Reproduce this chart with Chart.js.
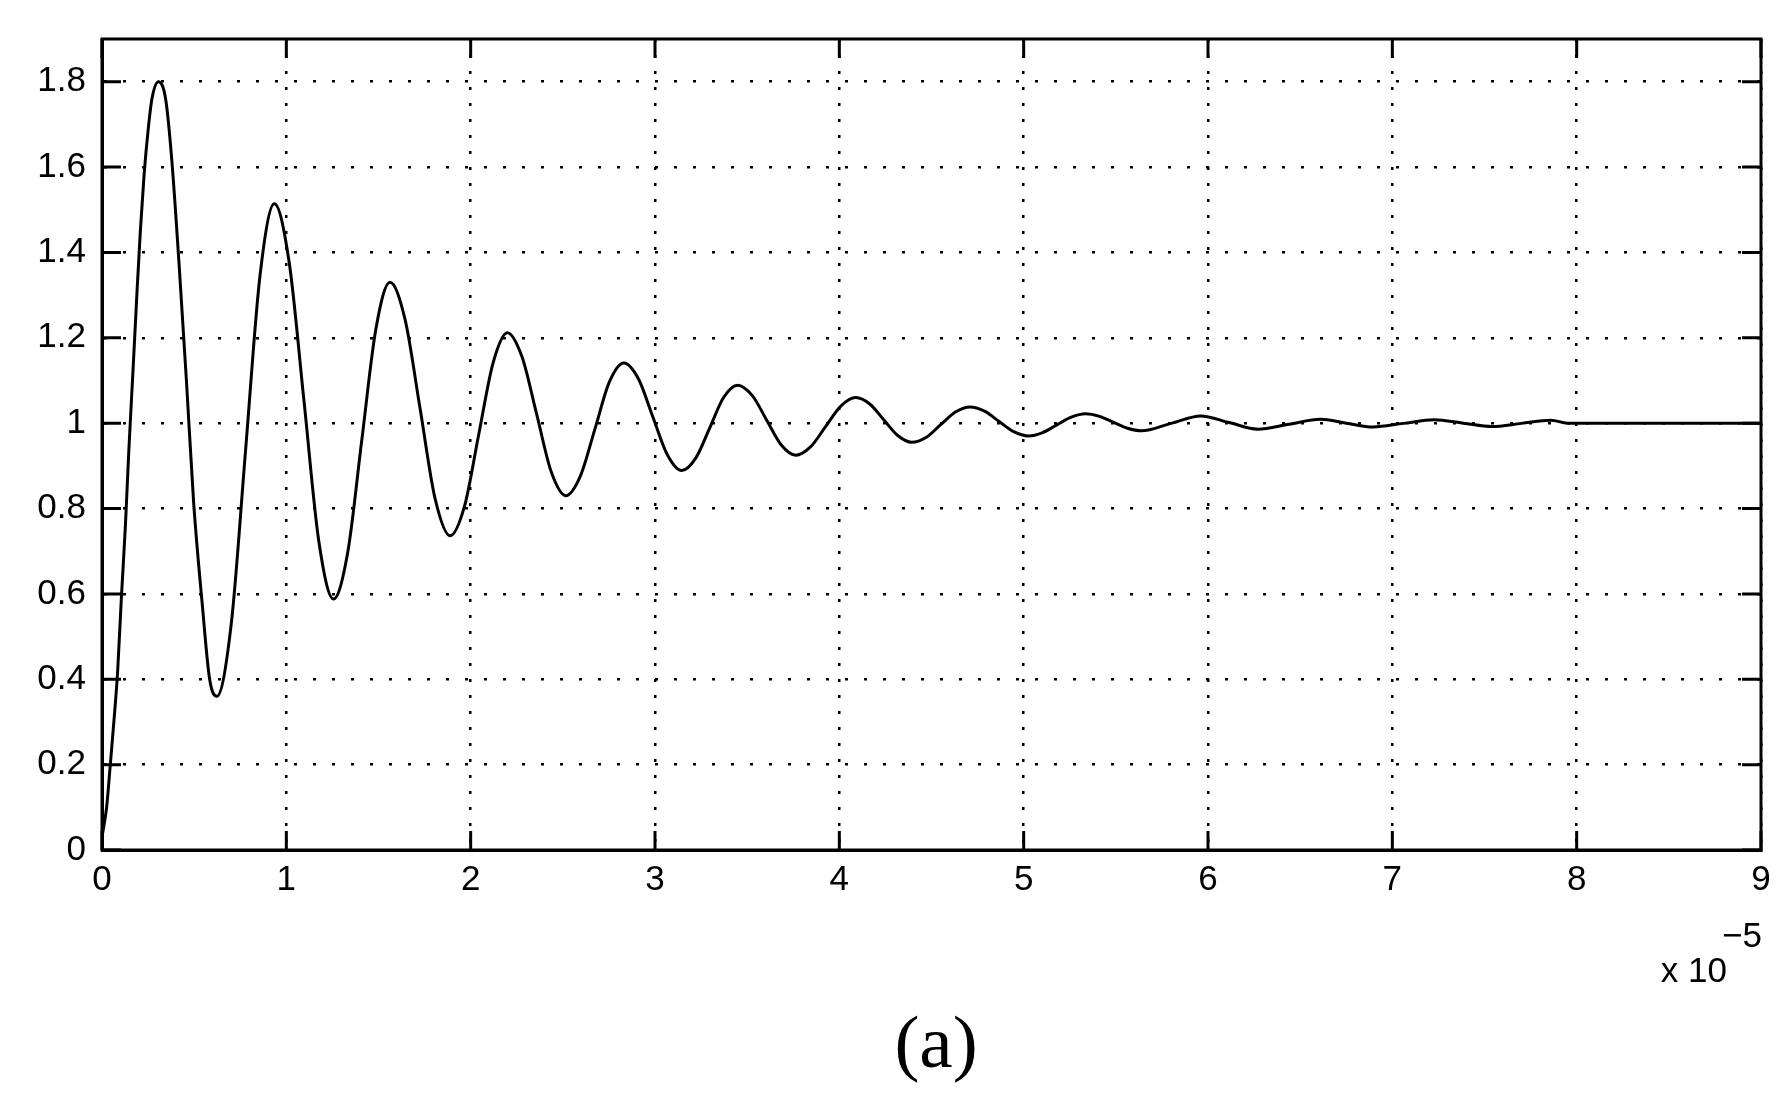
<!DOCTYPE html>
<html>
<head>
<meta charset="utf-8">
<title>Step response (a)</title>
<script src="https://cdn.jsdelivr.net/npm/chart.js@4.4.0/dist/chart.umd.min.js"></script>
<style>
    html, body { margin: 0; padding: 0; background: #fff; }
    #wrap { width: 1792px; height: 1109px; }
</style>
</head>
<body>
<div id="wrap"><canvas id="stepChart" width="1792" height="1109"></canvas></div>
<script>
// Time axis, in units of 1e-5 s
const timeValues = [
    0, 0.025, 0.045, 0.07, 0.085, 0.105, 0.127, 0.146, 0.169, 0.189, 0.208, 0.228, 0.251, 0.271, 0.306,
    0.345, 0.378, 0.417, 0.458, 0.497, 0.543, 0.584, 0.623,
    0.701, 0.779, 0.857, 0.935,
    1.015, 1.096, 1.176, 1.256,
    1.333, 1.409, 1.486, 1.562,
    1.644, 1.726, 1.807, 1.889,
    1.967, 2.044, 2.122, 2.199,
    2.278, 2.358, 2.437, 2.516,
    2.595, 2.674, 2.752, 2.831,
    2.91, 2.988, 3.067, 3.145,
    3.221, 3.297, 3.372, 3.448,
    3.527, 3.606, 3.685, 3.764,
    3.845, 3.927, 4.008, 4.089,
    4.165, 4.241, 4.317, 4.393,
    4.472, 4.551, 4.630, 4.709,
    4.788, 4.867, 4.946, 5.025,
    5.103, 5.18, 5.258, 5.335,
    5.411, 5.487, 5.563, 5.639,
    5.80, 5.96, 6.115, 6.27, 6.44, 6.61, 6.75, 6.895, 7.06, 7.227, 7.385, 7.54, 7.70, 7.86, 7.95, 9
];
// Response values at those times
const responseValues = [
    0.03, 0.10, 0.20, 0.33, 0.42, 0.59, 0.76, 0.94, 1.13, 1.30, 1.45, 1.58, 1.69, 1.76, 1.80,
    1.76, 1.62, 1.38, 1.10, 0.815, 0.58, 0.40, 0.36,
    0.529, 0.937, 1.345, 1.514,
    1.378, 1.051, 0.724, 0.588,
    0.697, 0.959, 1.221, 1.33,
    1.243, 1.033, 0.823, 0.736,
    0.806, 0.974, 1.142, 1.212,
    1.156, 1.021, 0.886, 0.830,
    0.876, 0.986, 1.096, 1.141,
    1.104, 1.015, 0.926, 0.889,
    0.918, 0.989, 1.060, 1.089,
    1.065, 1.007, 0.949, 0.925,
    0.945, 0.993, 1.040, 1.060,
    1.045, 1.008, 0.971, 0.955,
    0.967, 0.997, 1.026, 1.038,
    1.028, 1.004, 0.980, 0.970,
    0.978, 0.996, 1.014, 1.022,
    1.016, 1.002, 0.988, 0.982,
    0.9995, 1.017, 1.0015, 0.986, 0.9975, 1.009, 1.0, 0.991, 0.9995, 1.008, 1.0, 0.992, 0.9995, 1.007, 1.0, 1.0
];
const xTickValues = [0, 1, 2, 3, 4, 5, 6, 7, 8, 9];
const xTickLabels = ['0', '1', '2', '3', '4', '5', '6', '7', '8', '9'];
const yTickValues = [0, 0.2, 0.4, 0.6, 0.8, 1, 1.2, 1.4, 1.6, 1.8];
const yTickLabels = ['0', '0.2', '0.4', '0.6', '0.8', '1', '1.2', '1.4', '1.6', '1.8'];

const tickFont = { family: '"Liberation Sans", Arial, sans-serif', size: 35 };
const tickLen = 19;

// draws the box, the inward ticks on all four sides and the extra labels
const matlabFrame = {
    id: 'matlabFrame',
    afterDatasetsDraw(chart) {
        const { ctx, chartArea: a, scales: { x, y } } = chart;
        ctx.save();
        ctx.strokeStyle = '#000';
        ctx.lineWidth = 3;
        ctx.strokeRect(a.left, a.top, a.right - a.left, a.bottom - a.top);
        ctx.beginPath();
        yTickValues.forEach(v => {
            const py = y.getPixelForValue(v);
            ctx.moveTo(a.left, py); ctx.lineTo(a.left + tickLen, py);
            ctx.moveTo(a.right, py); ctx.lineTo(a.right - tickLen, py);
        });
        xTickValues.forEach(v => {
            const px = x.getPixelForValue(v);
            ctx.moveTo(px, a.bottom); ctx.lineTo(px, a.bottom - tickLen);
            ctx.moveTo(px, a.top); ctx.lineTo(px, a.top + tickLen);
        });
        ctx.stroke();

        // exponent of the x axis
        ctx.fillStyle = '#000';
        ctx.font = '35px "Liberation Sans", Arial, sans-serif';
        ctx.textAlign = 'right';
        ctx.textBaseline = 'alphabetic';
        ctx.fillText('x 10', a.right - 34, 982);
        ctx.fillText('\u22125', a.right + 1, 947);

        // panel caption
        ctx.font = '75px "Liberation Serif", "Times New Roman", serif';
        ctx.textAlign = 'center';
        ctx.fillText('(a)', 936, 1067);
        ctx.restore();
    }
};

const ctx = document.getElementById('stepChart').getContext('2d');
const stepChart = new Chart(ctx, {
    type: 'line',
    data: {
        datasets: [{
            data: timeValues.map((t, i) => ({ x: t, y: responseValues[i] })),
            borderColor: '#000',
            borderWidth: 3,
            pointRadius: 0,
            fill: false,
            cubicInterpolationMode: 'monotone'
        }]
    },
    options: {
        responsive: false,
        animation: false,
        devicePixelRatio: 1,
        layout: { padding: { left: 0, top: 39, right: 31, bottom: 0 } },
        plugins: {
            legend: { display: false },
            tooltip: { enabled: false }
        },
        scales: {
            x: {
                type: 'linear',
                min: 0,
                max: 9,
                afterFit: scale => { scale.height = 259; },
                afterBuildTicks: scale => { scale.ticks = xTickValues.map(v => ({ value: v })); },
                ticks: {
                    color: '#000',
                    font: tickFont,
                    padding: 9,
                    maxRotation: 0,
                    autoSkip: false,
                    callback: (value, index) => xTickLabels[index]
                },
                grid: { color: '#000', lineWidth: 2.5, drawTicks: false },
                border: { display: true, color: '#000', width: 3, dash: [3, 13] }
            },
            y: {
                type: 'linear',
                min: 0,
                max: 1.9,
                afterFit: scale => { scale.width = 102; },
                afterBuildTicks: scale => { scale.ticks = yTickValues.map(v => ({ value: v })); },
                ticks: {
                    color: '#000',
                    font: tickFont,
                    padding: 16,
                    autoSkip: false,
                    callback: (value, index) => yTickLabels[index]
                },
                grid: { color: '#000', lineWidth: 2.5, drawTicks: false },
                border: { display: true, color: '#000', width: 3, dash: [3, 16] }
            }
        }
    },
    plugins: [matlabFrame]
});
</script>
</body>
</html>
